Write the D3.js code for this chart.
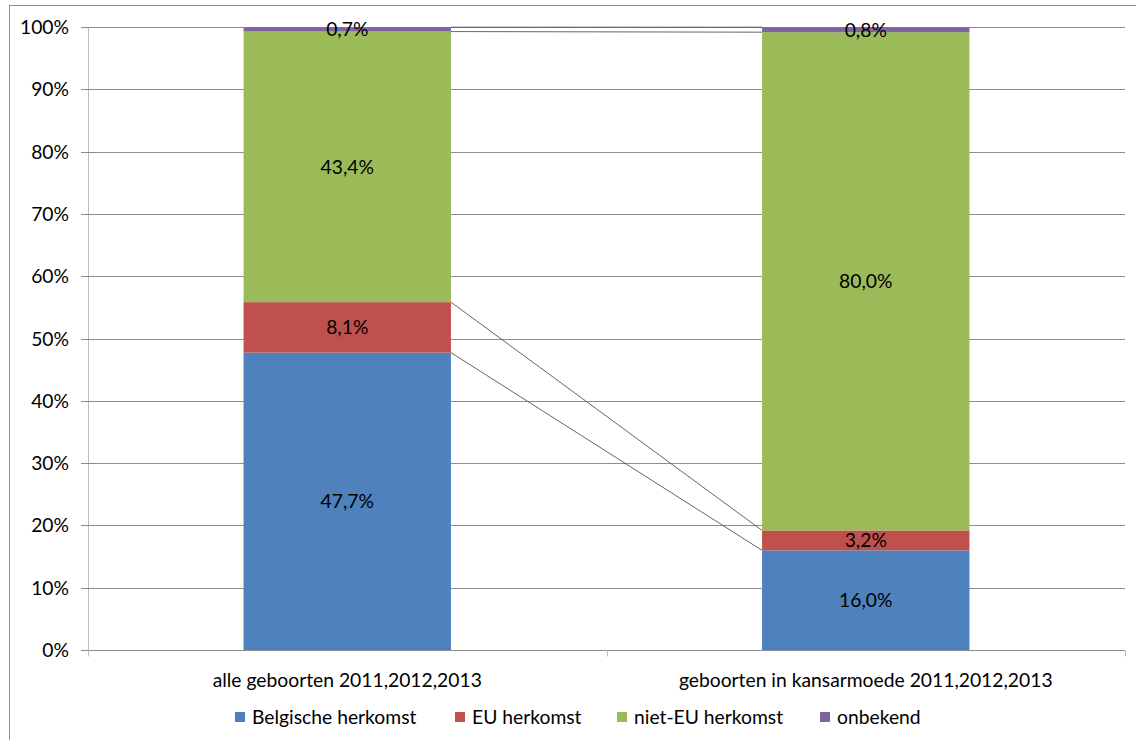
<!DOCTYPE html>
<html><head><meta charset="utf-8">
<script src="https://cdn.jsdelivr.net/npm/d3@7"></script>
<style>body{margin:0;background:#fff}svg{display:block}</style>
</head><body>
<svg id="c" width="1136" height="740"></svg>
<script>
const categories = ["alle geboorten 2011,2012,2013", "geboorten in kansarmoede 2011,2012,2013"];
const seriesNames = ["Belgische herkomst", "EU herkomst", "niet-EU herkomst", "onbekend"];
const belgisch = [47.7, 16.0];
const eu = [8.1, 3.2];
const nietEu = [43.4, 80.0];
const onbekend = [0.7, 0.8];
const colors = ["#4F81BD", "#C0504D", "#9BBB59", "#8064A2"];
const yTicks = [0, 0.1, 0.2, 0.3, 0.4, 0.5, 0.6, 0.7, 0.8, 0.9, 1.0];

const font = "Lato, 'Open Sans', sans-serif";
const fs = 19.3;
const svg = d3.select("#c");
const L = 88, R = 1125, T = 27.2, B = 650;

// outer chart border
svg.append("rect").attr("x", 9.5).attr("y", 5.5).attr("width", 1140).attr("height", 760)
  .attr("fill", "none").attr("stroke", "#8c8c8c").attr("stroke-width", 1);

const rows = categories.map((c, i) => {
  const vals = [belgisch[i], eu[i], nietEu[i], onbekend[i]];
  const tot = d3.sum(vals);
  const o = {cat: c};
  seriesNames.forEach((s, j) => o[s] = vals[j] / tot);
  o.raw = vals;
  return o;
});
const stacked = d3.stack().keys(seriesNames)(rows);

const x = d3.scaleBand().domain(categories).range([L, R]).paddingInner(0.6).paddingOuter(0.3);
const y = d3.scaleLinear().domain([0, 1]).range([B, T]);

// y axis + gridlines
const yAxis = d3.axisLeft(y).tickValues(yTicks).tickFormat(d3.format(".0%")).tickSize(7).tickPadding(12);
const gy = svg.append("g").attr("transform", `translate(${L},0)`).call(yAxis);
gy.select(".domain").attr("stroke", "#bdbdbd");
gy.selectAll(".tick line").attr("stroke", "#8c8c8c");
gy.selectAll(".tick text").attr("font-family", font).attr("font-size", fs).attr("fill", "#000");
svg.append("g").selectAll("line").data(yTicks).join("line")
  .attr("x1", L).attr("x2", R).attr("y1", d => Math.round(y(d)) + 0.5).attr("y2", d => Math.round(y(d)) + 0.5)
  .attr("stroke", "#8c8c8c").attr("stroke-width", 1);
gy.selectAll(".tick").attr("transform", d => `translate(0,${Math.round(y(d)) + 0.5})`);

// x axis
const xAxisG = svg.append("g").attr("transform", `translate(0,${B + 0.5})`);
xAxisG.append("line").attr("x1", L).attr("x2", R).attr("stroke", "#8c8c8c");
const bounds = [L, (L + R) / 2, R];
xAxisG.selectAll("line.t").data(bounds).join("line").attr("class", "t")
  .attr("x1", d => Math.round(d) + 0.5).attr("x2", d => Math.round(d) + 0.5).attr("y1", 0).attr("y2", 6).attr("stroke", "#bdbdbd");
xAxisG.selectAll("text").data(categories).join("text")
  .attr("x", d => x(d) + x.bandwidth() / 2).attr("y", 30).attr("dy", "0.36em").attr("text-anchor", "middle")
  .attr("font-family", font).attr("font-size", fs).attr("fill", "#000").text(d => d);

// series lines
const sl = svg.append("g");
stacked.forEach(s => {
  sl.append("line")
    .attr("x1", x(categories[0]) + x.bandwidth()).attr("y1", y(s[0][1]))
    .attr("x2", x(categories[1])).attr("y2", y(s[1][1]))
    .attr("stroke", "#555").attr("stroke-width", 0.9);
});

// bars
stacked.forEach((s, j) => {
  svg.append("g").selectAll("rect").data(s).join("rect")
    .attr("x", d => x(d.data.cat)).attr("width", x.bandwidth())
    .attr("y", d => y(d[1])).attr("height", d => y(d[0]) - y(d[1]))
    .attr("fill", colors[j]);
});

// labels
const fmt = v => v.toFixed(1).replace(".", ",") + "%";
stacked.forEach((s, j) => {
  svg.append("g").selectAll("text").data(s).join("text")
    .attr("x", d => x(d.data.cat) + x.bandwidth() / 2)
    .attr("y", d => (y(d[0]) + y(d[1])) / 2).attr("dy", "0.36em")
    .attr("text-anchor", "middle").attr("font-family", font).attr("font-size", fs).attr("fill", "#000")
    .text(d => fmt(d.data.raw[j]));
});

// legend
const legX = [235, 455, 617, 820];
const lg = svg.append("g");
seriesNames.forEach((n, j) => {
  lg.append("rect").attr("x", legX[j]).attr("y", 712).attr("width", 10).attr("height", 10).attr("fill", colors[j]);
  lg.append("text").attr("x", legX[j] + 17).attr("y", 717).attr("dy", "0.36em")
    .attr("font-family", font).attr("font-size", fs).attr("fill", "#000").text(n);
});
</script>
</body></html>
